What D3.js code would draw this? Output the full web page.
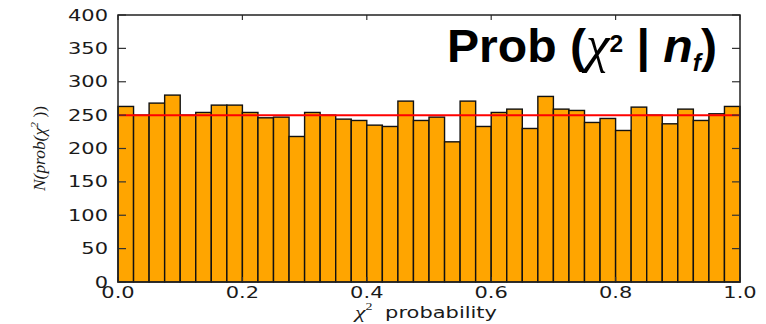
<!DOCTYPE html>
<html>
<head>
<meta charset="utf-8">
<script src="https://cdn.jsdelivr.net/npm/d3@7"></script>
<style>
  body { margin: 0; background: #fff; }
  svg { display: block; }
</style>
</head>
<body>
<div id="chart"></div>
<script>
// histogram counts of chi2 probability, 40 bins over [0, 1]
const counts = [263, 250, 268, 280, 250, 254, 265, 265, 254, 246,
                247, 218, 254, 250, 244, 242, 235, 233, 271, 242,
                247, 210, 271, 233, 254, 259, 230, 278, 259, 257,
                239, 245, 227, 262, 250, 237, 259, 242, 252, 263];
const expected = 250;
const xTicks = [0, 0.2, 0.4, 0.6, 0.8, 1.0];
const yTicks = [0, 50, 100, 150, 200, 250, 300, 350, 400];

const W = 766, H = 324;
const margin = {top: 15, right: 26, bottom: 42, left: 118};
const stretch = 1.4; // the source picture is stretched sideways

const svg = d3.select('#chart').append('svg')
    .attr('width', W)
    .attr('height', H);

const x = d3.scaleLinear().domain([0, 1]).range([margin.left, W - margin.right]);
const y = d3.scaleLinear().domain([0, 400]).range([H - margin.bottom, margin.top]);

const binW = 1 / counts.length;

// bars
svg.append('g')
  .selectAll('rect')
  .data(counts)
  .join('rect')
    .attr('x', (d, i) => x(i * binW))
    .attr('y', d => y(d))
    .attr('width', x(binW) - x(0))
    .attr('height', d => y(0) - y(d))
    .attr('fill', '#ffa500')
    .attr('stroke', '#111')
    .attr('stroke-width', 1.4);

// expected line
svg.append('line')
    .attr('x1', x(0)).attr('x2', x(1))
    .attr('y1', y(expected)).attr('y2', y(expected))
    .attr('stroke', '#ff0000')
    .attr('stroke-width', 2);

// inward ticks on all four sides
const tickCol = '#333';
const ticks = svg.append('g').attr('stroke', tickCol).attr('stroke-width', 1.2);
yTicks.forEach(v => {
  ticks.append('line').attr('x1', x(0)).attr('x2', x(0) + 8).attr('y1', y(v)).attr('y2', y(v));
  ticks.append('line').attr('x1', x(1)).attr('x2', x(1) - 8).attr('y1', y(v)).attr('y2', y(v));
});
xTicks.forEach(v => {
  ticks.append('line').attr('x1', x(v)).attr('x2', x(v)).attr('y1', y(0)).attr('y2', y(0) - 5);
  ticks.append('line').attr('x1', x(v)).attr('x2', x(v)).attr('y1', y(400)).attr('y2', y(400) + 5);
});

// frame
svg.append('rect')
    .attr('x', x(0)).attr('y', y(400))
    .attr('width', x(1) - x(0)).attr('height', y(0) - y(400))
    .attr('fill', 'none')
    .attr('stroke', '#222')
    .attr('stroke-width', 1.5);

// tick labels
const labFont = '"DejaVu Sans", sans-serif';
svg.append('g')
  .selectAll('text')
  .data(yTicks)
  .join('text')
    .attr('transform', d => `translate(108,${y(d) + 5.5}) scale(${stretch},1)`)
    .attr('text-anchor', 'end')
    .attr('font-family', labFont)
    .attr('font-size', 15)
    .attr('fill', '#1a1a1a')
    .text(d => d);

svg.append('g')
  .selectAll('text')
  .data(xTicks)
  .join('text')
    .attr('transform', d => `translate(${x(d)},${y(0) + 16}) scale(${stretch},1)`)
    .attr('text-anchor', 'middle')
    .attr('font-family', labFont)
    .attr('font-size', 15)
    .attr('fill', '#1a1a1a')
    .text(d => d.toFixed(1));

// x axis label
const xl = svg.append('text')
    .attr('transform', `translate(426,318) scale(${stretch},1)`)
    .attr('text-anchor', 'middle')
    .attr('font-family', labFont)
    .attr('font-size', 15)
    .attr('fill', '#1a1a1a');
xl.append('tspan').attr('font-family', '"Liberation Serif", serif').attr('font-style', 'italic').attr('font-size', 17).text('χ');
xl.append('tspan').attr('font-family', '"Liberation Serif", serif').attr('font-size', 10).attr('dy', -8).text('2');
xl.append('tspan').attr('dy', 8).attr('dx', 9).text('probability');

// y axis label
const yl = svg.append('text')
    .attr('text-anchor', 'middle')
    .attr('font-family', '"Liberation Serif", serif')
    .attr('font-style', 'italic')
    .attr('font-size', 16)
    .attr('fill', '#1a1a1a');
yl.append('tspan').text('N(prob(χ');
yl.append('tspan').attr('font-size', 11).attr('dy', -7).text('2');
yl.append('tspan').attr('dy', 7).attr('font-style', 'normal').text(' ))');
const ylw = yl.node().getComputedTextLength();
yl.attr('transform', `translate(45,${(y(0) + y(400)) / 2}) rotate(-90) scale(${85 / ylw},1)`);

// title annotation
const t = svg.append('text')
    .attr('x', 447)
    .attr('y', 62)
    .attr('font-family', '"Liberation Sans", Arial, sans-serif')
    .attr('font-weight', 'bold')
    .attr('font-size', 47)
    .attr('fill', '#000');
t.append('tspan').text('Prob (');
t.append('tspan').attr('font-family', '"Liberation Serif", serif').attr('font-weight', 'normal').attr('font-style', 'italic').attr('font-size', 52).text('χ');
t.append('tspan').attr('font-size', 24).attr('dy', -10).text('2');
t.append('tspan').attr('dy', 10).text(' | ');
t.append('tspan').attr('font-style', 'italic').text('n');
t.append('tspan').attr('font-style', 'italic').attr('font-size', 24).attr('dy', 9).text('f');
t.append('tspan').attr('dy', -9).text(')');
t.attr('textLength', 270).attr('lengthAdjust', 'spacingAndGlyphs');
</script>
</body>
</html>
